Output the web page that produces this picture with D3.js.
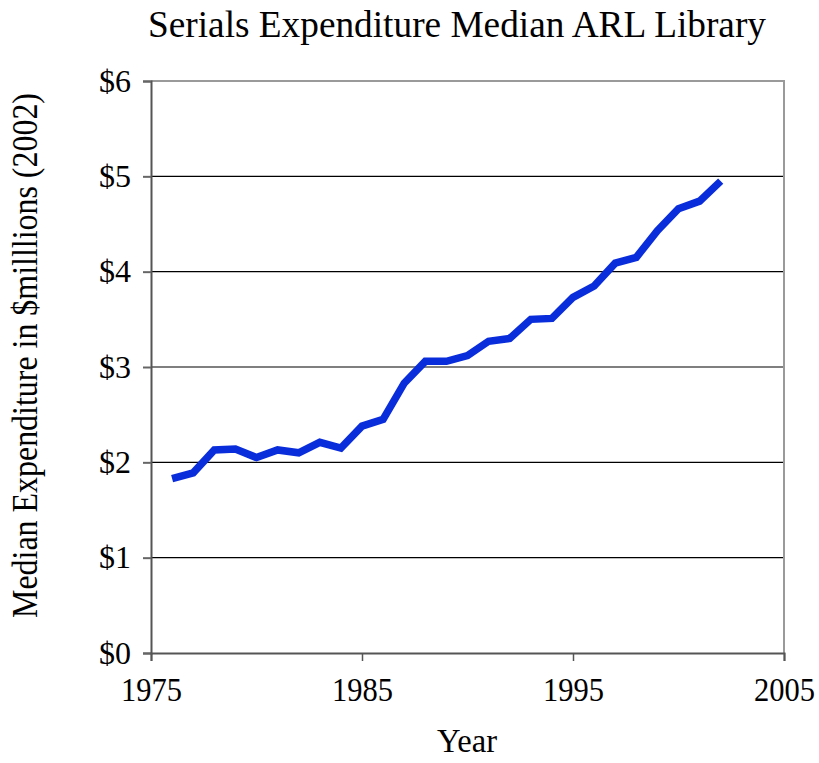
<!DOCTYPE html>
<html>
<head>
<meta charset="utf-8">
<script src="https://cdn.jsdelivr.net/npm/d3@7"></script>
<style>
  body { margin: 0; background: #fff; }
  text { font-family: "Liberation Serif", "Times New Roman", serif; fill: #000; }
</style>
</head>
<body>
<svg id="chart" width="819" height="763"></svg>
<script>
// Data
const years = [1976, 1977, 1978, 1979, 1980, 1981, 1982, 1983, 1984, 1985,
  1986, 1987, 1988, 1989, 1990, 1991, 1992, 1993, 1994, 1995,
  1996, 1997, 1998, 1999, 2000, 2001, 2002];
const expenditure = [1.83, 1.89, 2.13, 2.14, 2.05, 2.13, 2.10, 2.21, 2.15, 2.38,
  2.45, 2.83, 3.06, 3.06, 3.12, 3.27, 3.30, 3.50, 3.51, 3.73,
  3.85, 4.09, 4.15, 4.43, 4.66, 4.74, 4.95];
const xTicks = [1975, 1985, 1995, 2005];
const yTicks = [0, 1, 2, 3, 4, 5, 6];

const svg = d3.select('#chart');
const margin = { left: 151, right: 35, top: 81, bottom: 110 };
const W = 819, H = 763;

const x = d3.scaleLinear().domain([1975, 2005]).range([margin.left, W - margin.right]);
const y = d3.scaleLinear().domain([0, 6]).range([H - margin.bottom, margin.top]);

// gridlines
svg.append('g')
  .selectAll('line')
  .data(yTicks.filter(d => d > 0 && d < 6))
  .join('line')
  .attr('x1', x(1975)).attr('x2', x(2005))
  .attr('y1', d => y(d)).attr('y2', d => y(d))
  .attr('stroke', '#000').attr('stroke-width', 1.2);

// top and right frame
svg.append('path')
  .attr('d', `M${x(1975)},${y(6)}H${x(2005)}V${y(0)}`)
  .attr('fill', 'none').attr('stroke', '#9a9a9a').attr('stroke-width', 2);

// y axis
const yAxis = d3.axisLeft(y).tickValues(yTicks).tickFormat(d => '$' + d).tickSize(8).tickPadding(12);
const gy = svg.append('g').attr('transform', `translate(${x(1975)},0)`).call(yAxis);
gy.select('.domain').attr('stroke', '#555').attr('stroke-width', 2);
gy.selectAll('.tick line').attr('stroke', '#666').attr('stroke-width', 2);
gy.selectAll('text').style('font-size', '32px').attr('dy', '0.32em');

// x axis
const xAxis = d3.axisBottom(x).tickValues(xTicks).tickFormat(d3.format('d')).tickSize(8).tickPadding(17);
const gx = svg.append('g').attr('transform', `translate(0,${y(0)})`).call(xAxis);
gx.select('.domain').attr('stroke', '#555').attr('stroke-width', 2);
gx.selectAll('.tick line').attr('stroke', '#555').attr('stroke-width', 1.5);
gx.selectAll('text').style('font-size', '33px')
  .attr('textLength', 61).attr('lengthAdjust', 'spacingAndGlyphs');

// line
const line = d3.line().x((d, i) => x(years[i])).y(d => y(d));
svg.append('path')
  .datum(expenditure)
  .attr('d', line)
  .attr('fill', 'none')
  .attr('stroke', '#0a2ddc')
  .attr('stroke-width', 7.5)
  .attr('stroke-linejoin', 'miter');

// title and labels
svg.append('text')
  .attr('x', 457).attr('y', 37)
  .attr('text-anchor', 'middle')
  .style('font-size', '38px')
  .attr('textLength', 618).attr('lengthAdjust', 'spacingAndGlyphs')
  .text('Serials Expenditure Median ARL Library');

svg.append('text')
  .attr('x', 467).attr('y', 752)
  .attr('text-anchor', 'middle')
  .style('font-size', '33px')
  .attr('textLength', 60).attr('lengthAdjust', 'spacingAndGlyphs')
  .text('Year');

svg.append('text')
  .attr('transform', 'translate(37,355.5) rotate(-90)')
  .attr('text-anchor', 'middle')
  .style('font-size', '35px')
  .attr('textLength', 525).attr('lengthAdjust', 'spacingAndGlyphs')
  .text('Median Expenditure in $milllions (2002)');
</script>
</body>
</html>
